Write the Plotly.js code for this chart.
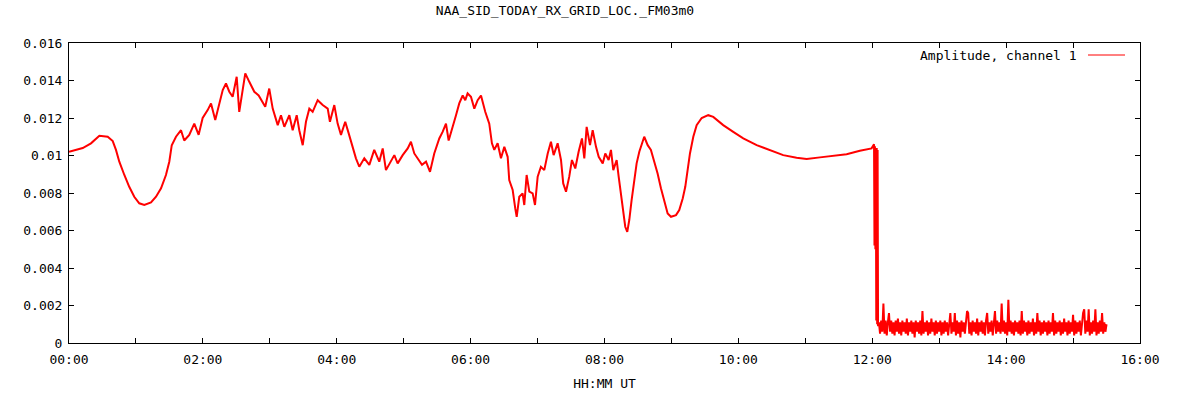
<!DOCTYPE html>
<html>
<head>
<meta charset="utf-8">
<script src="https://cdn.plot.ly/plotly-3.0.1.min.js"></script>
<style>
  html, body { margin: 0; padding: 0; background: #fff; }
  #chart { width: 1183px; height: 402px; }
</style>
</head>
<body>
<div id="chart"></div>
<script>
// time in minutes after 00:00 UT, amplitude
const dayMinutes = [
  0, 12.3, 19.7, 27.2, 34.7, 39.2, 42.1, 45.1, 49.6, 54.0, 58.5, 63.0, 67.5, 73.5, 78.0, 82.5, 86.9, 89.9,
  92.1, 95.9, 100.4, 103.3, 107.8, 112.3, 116.2, 119.8, 124.3, 127.3, 131.1, 134.7, 137.8, 140.7, 143.7,
  146.7, 150.3, 152.6, 155.7, 158.0, 161.6, 166.1, 170.0, 173.6, 175.9,
  178.1, 179.5, 182.6, 187.1, 190.0, 193.0, 197.5, 200.5, 204.1, 206.4, 209.5, 212.4, 215.4, 218.4, 222.9,
  227.4, 231.9, 233.9, 237.8, 240.8, 243.8, 247.6, 250.7, 253.6, 257.2, 260.2, 264.7, 269.2, 273.6, 278.1,
  281.2, 284.1, 288.6, 291.6, 294.6, 299.1, 303.6, 306.5, 309.5, 312.5, 316.4, 320.0, 323.6, 327.4, 331.9,
  334.9, 337.9, 340.3, 343.9, 346.9, 349.8, 352.9, 355.2,
  357.3, 360.3, 363.3, 366.3, 369.3, 373.1, 376.7, 379.1, 381.2, 384.2, 387.2, 390.2, 393.2, 394.6, 397.7,
  400.0, 401.3, 403.6, 406.6, 408.1, 410.2, 412.6, 415.6, 417.7, 420.1, 423.0, 426.0, 429.1, 432.0, 434.4,
  438.0, 441.0, 443.0, 445.5, 448.4, 450.8, 453.8, 456.8, 459.8, 461.9, 464.0, 467.0, 469.4, 472.4, 474.8,
  478.4, 480.7, 483.7, 485.8, 487.9, 490.9, 492.7, 494.8, 496.8, 498.6, 500.4, 502.2, 504.3, 506.7, 508.8,
  511.2, 513.6, 515.6, 518.7, 521.6, 524.6, 527.6, 530.6, 533.6, 536.6, 539.6, 544.1, 547.0, 550.1, 552.4,
  554.2, 556.6, 559.6, 562.6, 567.1, 573.0, 577.5, 586.4, 595.4, 604.4, 616.4, 628.3, 640.2, 652.2, 661.2,
  673.1, 685.0, 697.0, 708.9, 719.4
];
const dayAmp = [
  0.0102, 0.0104, 0.01065, 0.01105, 0.0110, 0.01077, 0.0103, 0.00967, 0.00896, 0.00833, 0.0078, 0.00745,
  0.00736, 0.0075, 0.0078, 0.00825, 0.00896, 0.00967,
  0.01055, 0.0110, 0.01135, 0.0108, 0.0111, 0.0117, 0.0111, 0.0120, 0.01242, 0.01278, 0.01189, 0.01269,
  0.01349, 0.01384, 0.0134, 0.01313, 0.0142, 0.01233, 0.0134, 0.01438, 0.01393, 0.0134, 0.0132, 0.01286, 0.0126,
  0.0132, 0.01357, 0.0125, 0.01162, 0.01215, 0.01153, 0.01215, 0.01135, 0.01215, 0.01135, 0.01055, 0.0118,
  0.0125, 0.01233, 0.01295, 0.01269, 0.0125, 0.0118, 0.01269, 0.0117, 0.0111, 0.0118, 0.01118, 0.01055,
  0.00985, 0.0094, 0.00985, 0.0095, 0.0103, 0.00967, 0.01038, 0.00922, 0.00967, 0.01002, 0.00958, 0.01002,
  0.01038, 0.01073, 0.01011, 0.00985, 0.0095, 0.00967, 0.00913, 0.01011, 0.01091, 0.01126, 0.0117, 0.0108,
  0.01162, 0.01215, 0.01278, 0.0132, 0.01295,
  0.01331, 0.01313, 0.0125, 0.01295, 0.0132, 0.01233, 0.0117, 0.01065, 0.0103, 0.01065, 0.00985, 0.01046,
  0.00993, 0.00869, 0.00816, 0.00718, 0.00673, 0.0078, 0.00798, 0.00736, 0.00896, 0.00807, 0.00798, 0.00736,
  0.00887, 0.0094, 0.00922, 0.01011, 0.01073, 0.01002, 0.01065, 0.00976, 0.00851, 0.00807, 0.00887, 0.00976,
  0.00931, 0.0102, 0.01091, 0.00985, 0.01153, 0.01055, 0.01135, 0.01046, 0.00993, 0.00958, 0.01011, 0.00976,
  0.0103, 0.00922, 0.00976, 0.00887, 0.0078, 0.00691, 0.0062, 0.00593, 0.00656, 0.00762, 0.00869, 0.00958,
  0.0102, 0.01065, 0.0110, 0.01055, 0.0103, 0.00967, 0.00904, 0.00825, 0.00753, 0.00691, 0.00673, 0.00682,
  0.00709, 0.00771, 0.00833,
  0.00922, 0.01011, 0.0110, 0.01162, 0.0120, 0.01215, 0.01206, 0.01162, 0.01126, 0.01091, 0.01055, 0.0103,
  0.01002, 0.00988, 0.00982, 0.0099, 0.00997, 0.01007, 0.01025, 0.01038
];

// the step down just after 12:00
const dropMinutes = [721.6, 722.0, 722.4, 722.8, 723.2, 723.6, 724.0, 724.4, 724.8, 725.2];
const dropAmp = [0.0106, 0.0052, 0.0105, 0.0050, 0.0104, 0.0012, 0.0104, 0.0010, 0.0103, 0.0009];

// noisy floor after the drop, one sample a minute
const tailMinutes = [
  726, 727, 728, 729, 730, 731, 732, 733, 734, 735, 736, 737, 738, 739, 740, 741, 742, 743, 744, 745,
  746, 747, 748, 749, 750, 751, 752, 753, 754, 755, 756, 757, 758, 759, 760, 761, 762, 763, 764, 765,
  766, 767, 768, 769, 770, 771, 772, 773, 774, 775, 776, 777, 778, 779, 780, 781, 782, 783, 784, 785,
  786, 787, 788, 789, 790, 791, 792, 793, 794, 795, 796, 797, 798, 799, 800, 801, 802, 803, 804, 805,
  806, 807, 808, 809, 810, 811, 812, 813, 814, 815, 816, 817, 818, 819, 820, 821, 822, 823, 824, 825,
  826, 827, 828, 829, 830, 831, 832, 833, 834, 835, 836, 837, 838, 839, 840, 841, 842, 843, 844, 845,
  846, 847, 848, 849, 850, 851, 852, 853, 854, 855, 856, 857, 858, 859, 860, 861, 862, 863, 864, 865,
  866, 867, 868, 869, 870, 871, 872, 873, 874, 875, 876, 877, 878, 879, 880, 881, 882, 883, 884, 885,
  886, 887, 888, 889, 890, 891, 892, 893, 894, 895, 896, 897, 898, 899, 900, 901, 902, 903, 904, 905,
  906, 907, 908, 909, 910, 911, 912, 913, 914, 915, 916, 917, 918, 919, 920, 921, 922, 923, 924, 925,
  926, 927, 928, 929, 930
];
const tailAmp = [
  0.0011, 0.0005, 0.0012, 0.0006, 0.0021, 0.0005, 0.0012, 0.0004, 0.0011, 0.0016,
  0.0006, 0.0012, 0.0005, 0.0011, 0.0004, 0.0012, 0.0006, 0.0013, 0.0005, 0.0011,
  0.0004, 0.0012, 0.0006, 0.0011, 0.0005, 0.0013, 0.0004, 0.0011, 0.0006, 0.0012,
  0.0005, 0.0011, 0.0003, 0.0012, 0.0006, 0.0011, 0.0005, 0.0012, 0.0004, 0.0017,
  0.0005, 0.0011, 0.0006, 0.0012, 0.0004, 0.0011, 0.0005, 0.0013, 0.0006, 0.0011,
  0.0004, 0.0012, 0.0005, 0.0011, 0.0006, 0.0012, 0.0004, 0.0011, 0.0005, 0.0012,
  0.0006, 0.0011, 0.0004, 0.0012, 0.0016, 0.0005, 0.0011, 0.0006, 0.0016, 0.0004,
  0.0012, 0.0005, 0.0011, 0.0003, 0.0012, 0.0006, 0.0011, 0.0005, 0.0012, 0.0017,
  0.0016, 0.0005, 0.0011, 0.0004, 0.0012, 0.0006, 0.0011, 0.0005, 0.0013, 0.0004,
  0.0011, 0.0006, 0.0012, 0.0005, 0.0011, 0.0004, 0.0012, 0.0016, 0.0005, 0.0011,
  0.0006, 0.0012, 0.0004, 0.0011, 0.0017, 0.0005, 0.0012, 0.0006, 0.0011, 0.0005,
  0.0021, 0.0006, 0.0012, 0.0005, 0.0011, 0.0004, 0.0023, 0.0006, 0.0012, 0.0005,
  0.0011, 0.0004, 0.0012, 0.0006, 0.0011, 0.0005, 0.0012, 0.0004, 0.0017, 0.0005,
  0.0012, 0.0006, 0.0011, 0.0004, 0.0012, 0.0005, 0.0011, 0.0006, 0.0013, 0.0004,
  0.0011, 0.0005, 0.0016, 0.0006, 0.0012, 0.0004, 0.0011, 0.0005, 0.0012, 0.0006,
  0.0011, 0.0004, 0.0012, 0.0005, 0.0011, 0.0006, 0.0016, 0.0004, 0.0012, 0.0005,
  0.0011, 0.0006, 0.0012, 0.0004, 0.0011, 0.0005, 0.0013, 0.0006, 0.0011, 0.0004,
  0.0012, 0.0005, 0.0011, 0.0006, 0.0015, 0.0004, 0.0012, 0.0005, 0.0011, 0.0006,
  0.0012, 0.0004, 0.0011, 0.0016, 0.0018, 0.0005, 0.0012, 0.0006, 0.0018, 0.0004,
  0.0011, 0.0005, 0.0012, 0.0006, 0.0018, 0.0004, 0.0011, 0.0005, 0.0012, 0.0006,
  0.0016, 0.0005, 0.0011, 0.0006, 0.0010
];

const hourTicks = [0, 60, 120, 180, 240, 300, 360, 420, 480, 540, 600, 660, 720, 780, 840, 900, 960];
const hourLabels = ['00:00', '', '02:00', '', '04:00', '', '06:00', '', '08:00', '', '10:00', '', '12:00', '', '14:00', '', '16:00'];
const ampTicks = [0, 0.002, 0.004, 0.006, 0.008, 0.01, 0.012, 0.014, 0.016];
const ampLabels = ['0', '0.002', '0.004', '0.006', '0.008', '0.01', '0.012', '0.014', '0.016'];

const FONT = 'DejaVu Sans Mono, monospace';

const trace = {
    x: dayMinutes.concat(dropMinutes, tailMinutes),
    y: dayAmp.concat(dropAmp, tailAmp),
    type: 'scatter',
    mode: 'lines',
    line: { color: '#ff0000', width: 2 },
    showlegend: false,
    hoverinfo: 'none'
};

const axisBase = {
    showline: true,
    linecolor: '#000',
    linewidth: 1,
    mirror: 'allticks',
    ticks: 'inside',
    ticklen: 5,
    tickcolor: '#000',
    showgrid: false,
    zeroline: false,
    fixedrange: true,
    tickmode: 'array',
    tickfont: { family: FONT, size: 13, color: '#000' }
};

const layout = {
    width: 1183,
    height: 402,
    margin: { l: 69, r: 43, t: 43, b: 59 },
    paper_bgcolor: '#fff',
    plot_bgcolor: '#fff',
    title: {
        text: 'NAA_SID_TODAY_RX_GRID_LOC._FM03m0',
        font: { family: FONT, size: 13, color: '#000' },
        xref: 'container',
        x: 565 / 1183,
        xanchor: 'center',
        yref: 'container',
        y: 1 - 10 / 402,
        yanchor: 'middle'
    },
    xaxis: Object.assign({}, axisBase, {
        range: [0, 960],
        tickvals: hourTicks,
        ticktext: hourLabels,
        ticklabelstandoff: 4,
        title: {
            text: 'HH:MM UT',
            font: { family: FONT, size: 13, color: '#000' },
            standoff: 13
        }
    }),
    yaxis: Object.assign({}, axisBase, {
        range: [0, 0.016],
        tickvals: ampTicks,
        ticktext: ampLabels,
        ticklabelstandoff: 3
    }),
    annotations: [{
        text: 'Amplitude, channel 1',
        xref: 'paper',
        yref: 'paper',
        x: (1079 - 69) / 1071,
        y: (343 - 55) / 300,
        xanchor: 'right',
        yanchor: 'middle',
        showarrow: false,
        font: { family: FONT, size: 13, color: '#000' }
    }],
    shapes: [{
        type: 'line',
        xref: 'paper',
        yref: 'paper',
        x0: (1088 - 69) / 1071,
        x1: (1125 - 69) / 1071,
        y0: (343 - 55) / 300,
        y1: (343 - 55) / 300,
        line: { color: '#ff0000', width: 1 }
    }]
};

const config = { displayModeBar: false, staticPlot: true };

Plotly.newPlot('chart', [trace], layout, config);
</script>
</body>
</html>
